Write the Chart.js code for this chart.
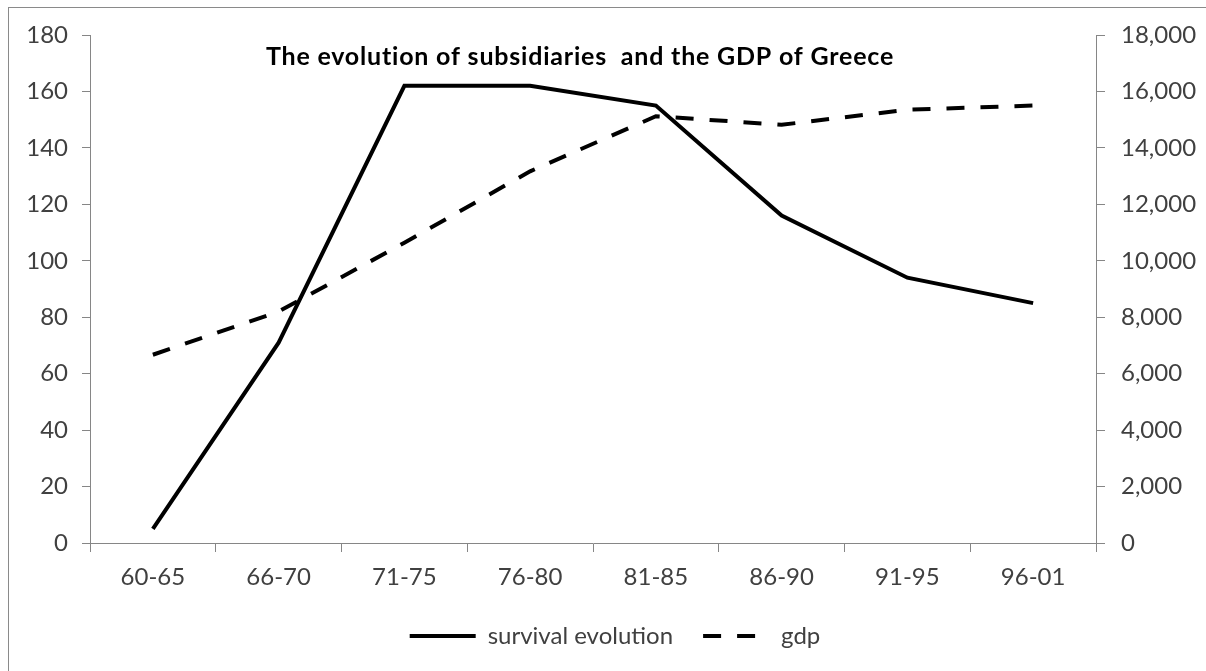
<!DOCTYPE html>
<html>
<head>
<meta charset="utf-8">
<script src="https://cdn.jsdelivr.net/npm/chart.js@4.4.1/dist/chart.umd.min.js"></script>
<style>
  html, body { margin: 0; padding: 0; background: #fff; overflow: hidden; }
  #frame { position: absolute; left: 8px; top: 7px; width: 1400px; height: 900px; border: 1px solid #8a8a8a; }
  #wrap { position: absolute; left: 0; top: 0; width: 1206px; height: 671px; }
</style>
</head>
<body>
<div id="frame"></div>
<div id="wrap"><canvas id="chart" width="1206" height="671"></canvas></div>
<script>
const periods = ['60-65', '66-70', '71-75', '76-80', '81-85', '86-90', '91-95', '96-01'];
const survival = [5, 71, 162, 162, 155, 116, 94, 85];
const gdp = [6670, 8200, 10640, 13170, 15120, 14820, 15350, 15500];
const chartTitle = 'The evolution of subsidiaries  and the GDP of Greece';

const axisGray = '#868686';
const textGray = '#404040';
const font = 'Lato';
const fontSize = 24;

// title sits inside the plot area, so draw it by hand
const titlePlugin = {
    id: 'innerTitle',
    afterDraw(chart) {
        const ctx = chart.ctx;
        ctx.save();
        ctx.font = 'bold 25px ' + font;
        ctx.letterSpacing = '0.8px';
        ctx.fillStyle = '#000';
        ctx.textAlign = 'center';
        ctx.textBaseline = 'middle';
        ctx.fillText(chartTitle, 580, 57);
        ctx.restore();
    }
};

const ctx = document.getElementById('chart').getContext('2d');
new Chart(ctx, {
    type: 'line',
    data: {
        labels: periods,
        datasets: [{
            label: 'survival evolution',
            data: survival,
            yAxisID: 'y',
            borderColor: '#000',
            backgroundColor: '#000',
            borderWidth: 4,
            pointRadius: 0,
            tension: 0
        }, {
            label: 'gdp',
            data: gdp,
            yAxisID: 'y1',
            borderColor: '#000',
            backgroundColor: '#000',
            borderWidth: 4,
            borderDash: [18, 16],
            pointRadius: 0,
            tension: 0
        }]
    },
    options: {
        responsive: false,
        animation: false,
        layout: { padding: { top: 35, left: 24, right: 0, bottom: 13 } },
        plugins: {
            legend: {
                position: 'bottom',
                labels: {
                    usePointStyle: true,
                    pointStyle: 'line',
                    pointStyleWidth: 66,
                    boxHeight: 20,
                    padding: 30,
                    color: textGray,
                    font: { family: font, size: fontSize },
                    generateLabels(chart) {
                        const items = Chart.defaults.plugins.legend.labels.generateLabels(chart);
                        items.forEach(it => {
                            const ds = chart.data.datasets[it.datasetIndex];
                            it.lineDash = ds.borderDash || [];
                            it.lineWidth = 4;
                            it.strokeStyle = '#000';
                        });
                        return items;
                    }
                }
            },
            tooltip: { enabled: false }
        },
        scales: {
            x: {
                offset: true,
                grid: { offset: true, drawOnChartArea: false, drawTicks: true, tickLength: 9, color: axisGray },
                border: { color: axisGray, width: 1 },
                ticks: { color: textGray, padding: 11, font: { family: font, size: fontSize } },
                afterFit(scale) { scale.height = 51; }
            },
            y: {
                position: 'left',
                min: 0, max: 180,
                ticks: { stepSize: 20, color: textGray, padding: 14, font: { family: font, size: fontSize } },
                grid: { drawOnChartArea: false, tickLength: 8, color: axisGray },
                border: { color: axisGray, width: 1 },
                afterFit(scale) { scale.width = 66; }
            },
            y1: {
                position: 'right',
                min: 0, max: 18000,
                ticks: {
                    stepSize: 2000, color: textGray, padding: 16,
                    font: { family: font, size: fontSize },
                    callback: v => v.toLocaleString('en-US')
                },
                grid: { drawOnChartArea: false, tickLength: 9, color: axisGray },
                border: { color: axisGray, width: 1 },
                afterFit(scale) { scale.width = 110; }
            }
        }
    },
    plugins: [titlePlugin]
});
</script>
</body>
</html>
